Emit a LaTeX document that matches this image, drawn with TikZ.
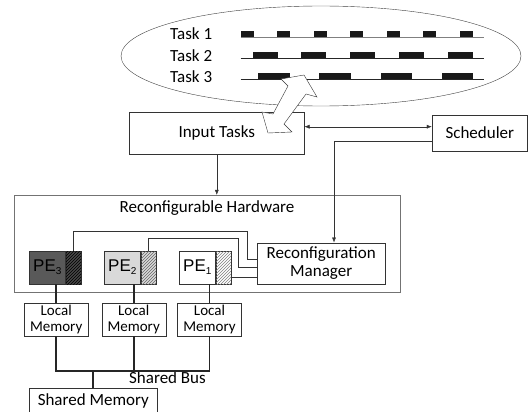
\documentclass[tikz,border=0pt]{standalone}
\usepackage{fontspec}
\setmainfont{Carlito}
\newfontfamily\pefont{Liberation Sans}
\usetikzlibrary{arrows.meta, positioning, patterns}
\tikzstyle{box} = [rectangle, draw=black!80, fill=white, text centered, align=center, inner sep=0pt, font=\fontsize{17}{18}\selectfont]
\tikzstyle{membox} = [box, minimum width=64pt, minimum height=32.7pt, font=\fontsize{15}{16}\selectfont]
\tikzstyle{pebox} = [rectangle, draw=black!80, minimum width=36.7pt, minimum height=33pt, inner sep=0pt, font=\pefont\fontsize{17}{18}\selectfont]
\tikzstyle{hatchbox} = [rectangle, draw=black!80, minimum width=15pt, minimum height=33pt, inner sep=0pt]
\tikzstyle{tasklabel} = [anchor=west, inner sep=0pt, font=\fontsize{17}{18}\selectfont]
\tikzstyle{arrow} = [black!80, -{Latex[length=5pt,width=4pt]}]
\tikzstyle{dblarrow} = [black!80, {Latex[length=5pt,width=4pt]}-{Latex[length=5pt,width=4pt]}]
\tikzstyle{wire} = [black!80]
\tikzstyle{bus} = [line width=1.8pt, black!85]
\newcommand{\pename}[1]{PE\raisebox{-0.35ex}{\fontsize{10}{10}\selectfont #1}}

\begin{document}
\begin{tikzpicture}[x=1pt, y=-1pt]

\clip (0,0) rectangle (530,412);

% Task timelines
\draw[black!75] (321,56) ellipse [x radius=200, y radius=50];
\node (task1) [tasklabel] at (170,34) {Task 1};
\node (task2) [tasklabel] at (170,56) {Task 2};
\node (task3) [tasklabel] at (170,77) {Task 3};
\draw[gray] (240.7,37) -- (484.3,37);
\draw[black!85] (240.7,58) -- (484.3,58);
\draw[black!85] (240.7,79) -- (484.3,79);
\foreach \k in {0,...,6} \fill[black!90] (240.7+36.5*\k,31) rectangle ++(13,6);
\foreach \k in {0,...,4} \fill[black!90] (252.7+48.75*\k,52) rectangle ++(25,6);
\foreach \k in {0,...,3} \fill[black!90] (258.3+61.1*\k,73) rectangle ++(31.5,6);

% Nodes
\node (input) [box, minimum width=175pt, minimum height=41.3pt] at (216.8,133.3) {Input Tasks};
\node (sched) [box, minimum width=95.7pt, minimum height=36pt] at (479.8,133) {Scheduler};
\node (hw) [rectangle, draw=black!55, minimum width=386pt, minimum height=97.3pt] at (207,243.7) {};
\node (hwtitle) [font=\fontsize{17}{18}\selectfont] at (207,208) {Reconfigurable Hardware};
\node (rm) [box, minimum width=127.7pt, minimum height=41.6pt] at (321.2,263.5) {Reconfiguration\\Manager};

\node (pe3) [pebox, fill=black!65] at (47.3,267.5) {\pename{3}};
\node (pe3h) [hatchbox, right=0pt of pe3, fill=black!72, postaction={pattern=north east lines, pattern color=black}] {};
\node (pe2) [pebox, fill=black!15] at (122.3,267.5) {\pename{2}};
\node (pe2h) [hatchbox, right=0pt of pe2, fill=black!15, postaction={pattern=north east lines, pattern color=black!60}] {};
\node (pe1) [pebox, fill=white] at (197.3,267.5) {\pename{1}};
\node (pe1h) [hatchbox, right=0pt of pe1, fill=white, postaction={pattern=north east lines, pattern color=black!50}] {};

\node (lm3) [membox] at (56.2,319.7) {Local\\Memory};
\node (lm2) [membox] at (133.7,319.7) {Local\\Memory};
\node (lm1) [membox] at (209.5,319.7) {Local\\Memory};
\node (shared) [box, minimum width=128pt, minimum height=25pt, anchor=north] at (93.3,388) {Shared Memory};
\node (busname) [font=\fontsize{17}{18}\selectfont] at (167.5,378) {Shared Bus};
\coordinate (busy) at (0,370.7);

% Arrows
\draw [arrow] (input.south) -- (input.south |- hw.north);
\draw [dblarrow] ([yshift=6.6pt]input.east) -- ([yshift=6.6pt]input.east -| sched.west);
\draw [arrow] ([yshift=-7.7pt]sched.west) -| ([xshift=12.8pt]rm.north);

% Configuration wires
\draw [wire] (pe3h.north) |- (246.7,230.7) |- ([yshift=4.2pt]rm.west);
\draw [wire] (pe2h.north) |- (238.3,237.7) |- ([yshift=-3.2pt]rm.west);
\draw [wire] ([yshift=-9.8pt]pe1h.east) -- ([yshift=-9.8pt]pe1h.east -| rm.west);

% Memory bus
\draw [bus] (lm3.north) -- (lm3.north |- pe3.south);
\draw [bus] (lm2.north) -- (lm2.north |- pe2.south);
\draw [bus] (lm1.north) -- (lm1.north |- pe1.south);
\draw [bus] (lm3.south) |- (lm1.south |- busy) -- (lm1.south);
\draw [bus] (lm2.south) -- (lm2.south |- busy);
\draw [bus] (shared.north) -- (shared.north |- busy);

% Hollow double arrow between tasks and input
\draw [black!80, fill=white, line join=miter] (304,75) -- (317,97) -- (306,94) -- (284,124) -- (292,132)
  -- (268,133) -- (262,112) -- (273,114) -- (288,86) -- (281,79) -- cycle;

\end{tikzpicture}
\end{document}
